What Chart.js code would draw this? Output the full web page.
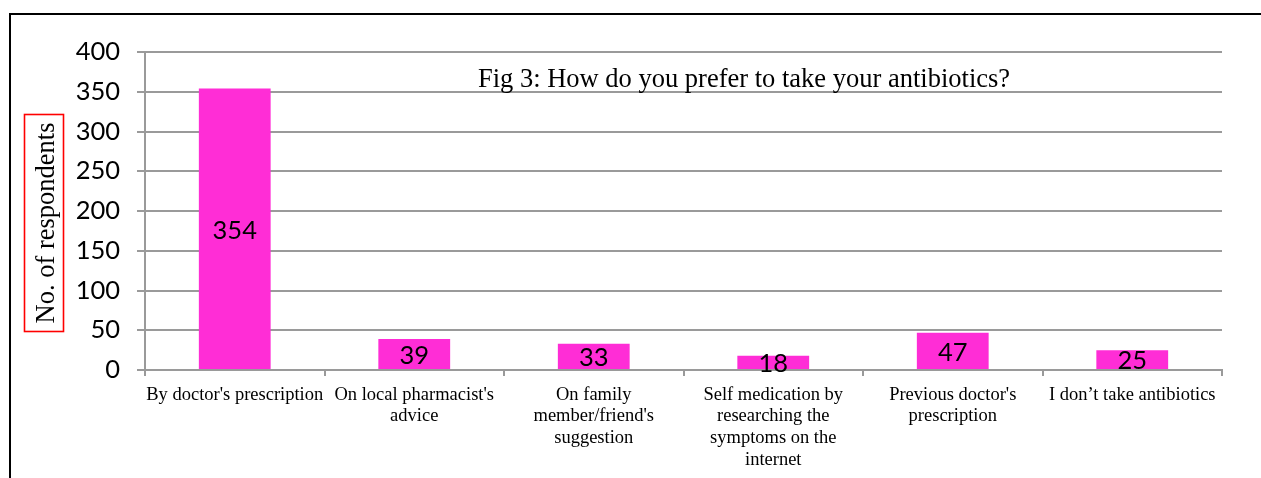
<!DOCTYPE html>
<html>
<head>
<meta charset="utf-8">
<script src="https://cdn.jsdelivr.net/npm/chart.js@4/dist/chart.umd.min.js"></script>
<style>
  html, body { margin: 0; padding: 0; background: #fff; }
  #wrap { position: relative; width: 1261px; height: 478px; overflow: hidden; }
  #frame { position: absolute; left: 9px; top: 13px; right: -4px; bottom: -4px;
           border-top: 2px solid #000; border-left: 2px solid #000; pointer-events: none; }
  canvas { position: absolute; left: 0; top: 0; }
</style>
</head>
<body>
<div id="wrap">
  <canvas id="c" width="1261" height="478"></canvas>
  <div id="frame"></div>
</div>
<script>
// ---- data ----
const categories = [
  "By doctor's prescription",
  ["On local pharmacist's", "advice"],
  ["On family", "member/friend's", "suggestion"],
  ["Self medication by", "researching the", "symptoms on the", "internet"],
  ["Previous doctor's", "prescription"],
  "I don’t take antibiotics"
];
const respondents = [354, 39, 33, 18, 47, 25];
const yTicks = [0, 50, 100, 150, 200, 250, 300, 350, 400];
const chartTitle = "Fig 3: How do you prefer to take your antibiotics?";
const yAxisTitle = "No. of respondents";

// ---- styles ----
const barColor = '#FF2DD6';
const gridColor = '#9a9a9a';
const numFont = 'Lato, "Open Sans", sans-serif';
const serifFont = '"Liberation Serif", "Times New Roman", serif';

const decorPlugin = {
  id: 'decor',
  afterDatasetsDraw(chart) {
    const ctx = chart.ctx;
    // data labels centred in bars
    const meta = chart.getDatasetMeta(0);
    ctx.save();
    ctx.fillStyle = '#000';
    ctx.font = '25.5px ' + numFont;
    ctx.textAlign = 'center';
    ctx.textBaseline = 'middle';
    meta.data.forEach((bar, i) => {
      const v = chart.data.datasets[0].data[i];
      ctx.fillText(String(v), bar.x, (bar.y + bar.base) / 2 + 1.5);
    });
    ctx.restore();
  },
  afterDraw(chart) {
    const ctx = chart.ctx;
    const ca = chart.chartArea;
    ctx.save();
    // chart title inside plot area
    ctx.fillStyle = '#000';
    ctx.font = '26.5px ' + serifFont;
    ctx.textAlign = 'left';
    ctx.textBaseline = 'alphabetic';
    ctx.fillText(chartTitle, 478, ca.top + 35);
    // y axis title (rotated) with red box
    ctx.translate(54, 223);
    ctx.rotate(-Math.PI / 2);
    ctx.textAlign = 'center';
    ctx.fillText(yAxisTitle, 0, 0);
    ctx.restore();
    ctx.save();
    ctx.strokeStyle = '#ff0000';
    ctx.lineWidth = 1.6;
    ctx.strokeRect(24.5, 114.5, 39, 217);
    ctx.restore();
  }
};

new Chart(document.getElementById('c'), {
  type: 'bar',
  data: {
    labels: categories,
    datasets: [{
      data: respondents,
      backgroundColor: barColor,
      borderWidth: 0,
      barPercentage: 0.4,
      categoryPercentage: 1.0
    }]
  },
  options: {
    responsive: false,
    animation: false,
    devicePixelRatio: 1,
    layout: { padding: { left: 0, right: 39, top: 52, bottom: 0 } },
    plugins: {
      legend: { display: false },
      title: { display: false },
      tooltip: { enabled: false }
    },
    scales: {
      x: {
        grid: {
          display: true,
          drawOnChartArea: false,
          drawTicks: true,
          tickLength: 6,
          color: gridColor,
          lineWidth: 2
        },
        border: { display: true, color: gridColor, width: 2 },
        ticks: {
          color: '#000',
          font: { family: serifFont, size: 18.5, lineHeight: 1.17 },
          padding: 8,
          maxRotation: 0,
          minRotation: 0,
          autoSkip: false
        },
        afterFit(scale) { scale.height = 108; }
      },
      y: {
        min: 0,
        max: 400,
        afterBuildTicks(scale) { scale.ticks = yTicks.map(v => ({ value: v })); },
        grid: {
          color: gridColor,
          lineWidth: 2,
          drawTicks: true,
          tickLength: 8
        },
        border: { display: true, color: gridColor, width: 2 },
        ticks: {
          color: '#000',
          font: { family: numFont, size: 25.5 },
          padding: 17
        },
        afterFit(scale) { scale.width = 145; }
      }
    }
  },
  plugins: [decorPlugin]
});
</script>
</body>
</html>
